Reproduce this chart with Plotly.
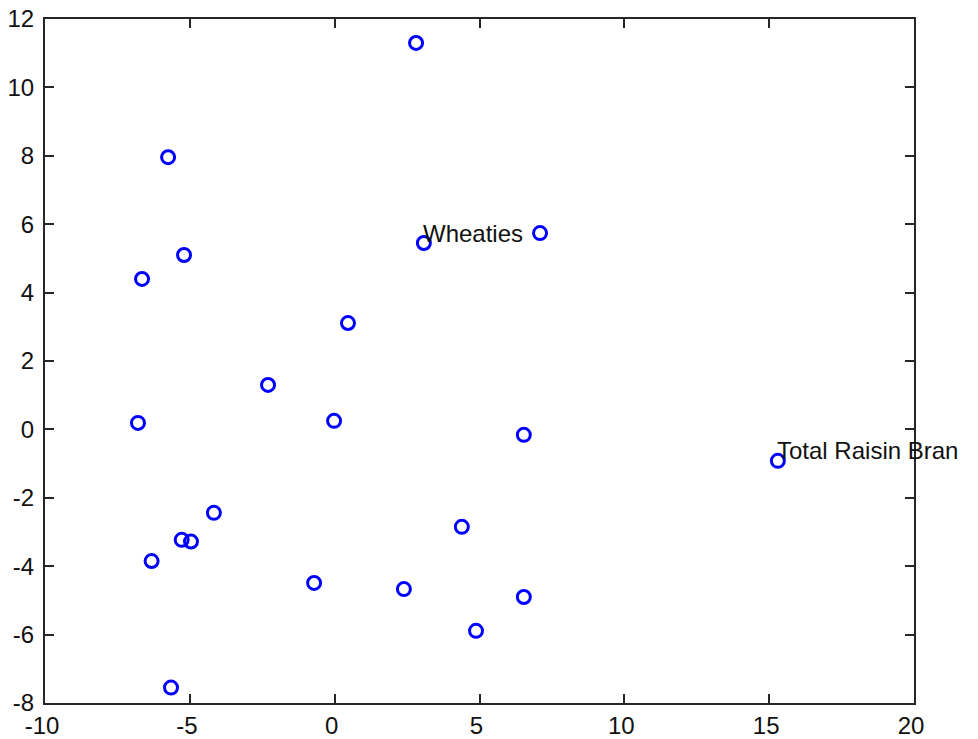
import plotly.graph_objects as go

x_vals = [2.81, -5.75, 7.09, 3.08, -5.20, -6.65, 0.46, -2.30, -6.79, -0.02, 6.53,
          15.30, -4.17, 4.39, -5.28, -4.96, -6.32, -0.71, 2.39, 6.53, 4.88, -5.65]
y_vals = [11.30, 7.96, 5.74, 5.45, 5.10, 4.40, 3.11, 1.30, 0.19, 0.25, -0.16,
          -0.92, -2.44, -2.85, -3.23, -3.28, -3.85, -4.49, -4.67, -4.90, -5.89, -7.55]
label_names = ["Wheaties", "Total Raisin Bran"]
label_x = [3.08, 15.30]
label_y = [5.45, -0.92]
x_ticks = [-10, -5, 0, 5, 10, 15, 20]
y_ticks = [-8, -6, -4, -2, 0, 2, 4, 6, 8, 10, 12]

fig = go.Figure()
fig.add_trace(go.Scatter(
    x=x_vals, y=y_vals, mode="markers",
    marker=dict(symbol="circle-open", size=13, color="#0000ff",
                line=dict(width=3, color="#0000ff")),
    showlegend=False, cliponaxis=False,
))

for name, lx, ly in zip(label_names, label_x, label_y):
    fig.add_annotation(x=lx, y=ly, text=name, showarrow=False,
                       xanchor="left", yanchor="middle", xshift=-3, yshift=10,
                       font=dict(family="Liberation Sans, Arial", size=24, color="#111111"))

axis_common = dict(showline=True, linecolor="#262626", linewidth=2, mirror="ticks",
                   ticks="inside", ticklen=9, tickwidth=2, tickcolor="#262626",
                   showgrid=False, zeroline=False, automargin=False,
                   ticklabeloverflow="allow",
                   tickfont=dict(family="Liberation Sans, Arial", size=24, color="#111111"))

fig.update_xaxes(range=[-10, 20], tickvals=x_ticks, ticktext=[str(v) for v in x_ticks],
                 ticklabelshift=-3, **axis_common)
fig.update_yaxes(range=[-8, 12], tickvals=y_ticks, ticktext=[str(v) for v in y_ticks],
                 ticklabelstandoff=4, **axis_common)

fig.update_layout(
    width=978, height=739,
    margin=dict(l=37, r=72, t=11, b=44),
    plot_bgcolor="white", paper_bgcolor="white",
)

fig.write_html("out.html")
